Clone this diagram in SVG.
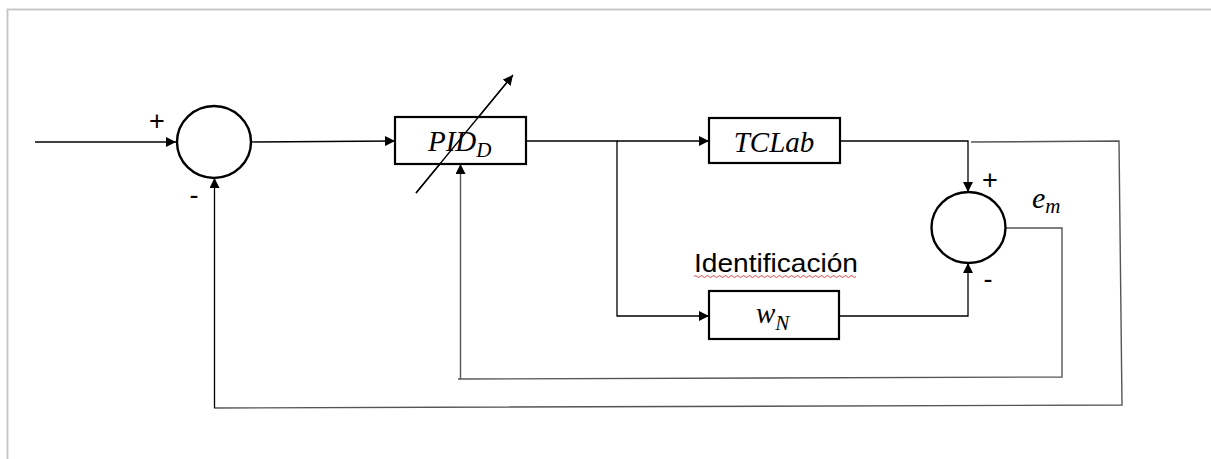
<svg xmlns="http://www.w3.org/2000/svg" width="1211" height="459" viewBox="0 0 1211 459">
<defs>
<marker id="ah" viewBox="0 0 10 10" refX="10" refY="5" markerWidth="10" markerHeight="10" markerUnits="userSpaceOnUse" orient="auto">
<path d="M0,0 L10,5 L0,10 z" fill="#000"/>
</marker>
</defs>
<style>
.ln{fill:none;stroke:#000;stroke-width:1.3}
.gl{fill:none;stroke:#555;stroke-width:1.4}
.bx{fill:#fff;stroke:#000;stroke-width:2.2}
.sum{fill:#fff;stroke:#000;stroke-width:2.4}
.math{font-family:"Liberation Serif","DejaVu Serif",serif;font-style:italic;fill:#000}
.sign{font-family:"Liberation Sans",Arial,sans-serif;fill:#000;font-size:27px}
.lbl{font-family:"Liberation Sans",Arial,sans-serif;fill:#000}
</style>
<rect width="1211" height="459" fill="#fff"/>
<g id="frame">
<path d="M7.5,459 V9.5 H1211" fill="none" stroke="#e6e6e6" stroke-width="3"/>
<path d="M7.5,459 V9.5 H1211" fill="none" stroke="#c4c4c4" stroke-width="1"/>
</g>
<g id="connectors">
<line class="ln" x1="35" y1="142" x2="176" y2="142" marker-end="url(#ah)"/>
<line class="ln" x1="251" y1="142" x2="395" y2="141" marker-end="url(#ah)"/>
<line class="ln" x1="526" y1="141" x2="618" y2="141"/>
<line class="ln" x1="617" y1="141" x2="709" y2="141" marker-end="url(#ah)"/>
<polyline class="ln" points="617,141 617,316 709,316" marker-end="url(#ah)"/>
<polyline class="ln" points="840,141 968,141 968,192" marker-end="url(#ah)"/>
<polyline class="ln" points="839,316 968,316 968,263" marker-end="url(#ah)"/>
<polyline class="gl" points="1006,228 1062,228 1062,377 458,379"/>
<line class="gl" x1="460.5" y1="379" x2="460.5" y2="164" marker-end="url(#ah)"/>
<polyline class="gl" points="971,142 1119,141 1122,405 214,408"/>
<line class="ln" x1="214.5" y1="408" x2="214.5" y2="178" marker-end="url(#ah)"/>
<line class="ln" x1="416" y1="193" x2="513" y2="75" marker-end="url(#ah)"/>
</g>
<g id="sum1">
<ellipse class="sum" cx="214" cy="142" rx="37" ry="36"/>
<text class="sign" x="157" y="130" text-anchor="middle">+</text>
<text class="sign" x="194" y="204" text-anchor="middle">-</text>
</g>
<g id="pid">
<rect class="bx" x="395" y="117" width="131" height="47"/>
<text class="math" x="428" y="151" font-size="29">PID<tspan font-size="21" dy="6">D</tspan></text>
</g>
<line class="ln" x1="416" y1="193" x2="508" y2="81"/>
<g id="tclab">
<rect class="bx" x="709" y="118" width="131" height="45"/>
<text class="math" x="774" y="152" font-size="29" text-anchor="middle">TCLab</text>
</g>
<g id="wn">
<rect class="bx" x="709" y="291" width="130" height="48"/>
<text class="math" x="756" y="323" font-size="29">w<tspan font-size="21" dy="7">N</tspan></text>
<text class="lbl" x="694" y="272" font-size="26" textLength="164" lengthAdjust="spacingAndGlyphs">Identificación</text>
<path d="M694,276.5 q1.5,-2 3,0 t3,0 t3,0 t3,0 t3,0 t3,0 t3,0 t3,0 t3,0 t3,0 t3,0 t3,0 t3,0 t3,0 t3,0 t3,0 t3,0 t3,0 t3,0 t3,0 t3,0 t3,0 t3,0 t3,0 t3,0 t3,0 t3,0 t3,0 t3,0 t3,0 t3,0 t3,0 t3,0 t3,0 t3,0 t3,0 t3,0 t3,0 t3,0 t3,0 t3,0 t3,0 t3,0 t3,0 t3,0 t3,0 t3,0 t3,0 t3,0 t3,0 t3,0 t3,0 t3,0 t3,0" fill="none" stroke="#e03030" stroke-width="0.9"/>
</g>
<g id="sum2">
<ellipse class="sum" cx="968.5" cy="227.5" rx="37" ry="35.5"/>
<text class="sign" x="990" y="189" text-anchor="middle">+</text>
<text class="sign" x="988" y="288" text-anchor="middle">-</text>
<text class="math" x="1032" y="208" font-size="30">e<tspan font-size="21" dy="5">m</tspan></text>
</g>
</svg>
